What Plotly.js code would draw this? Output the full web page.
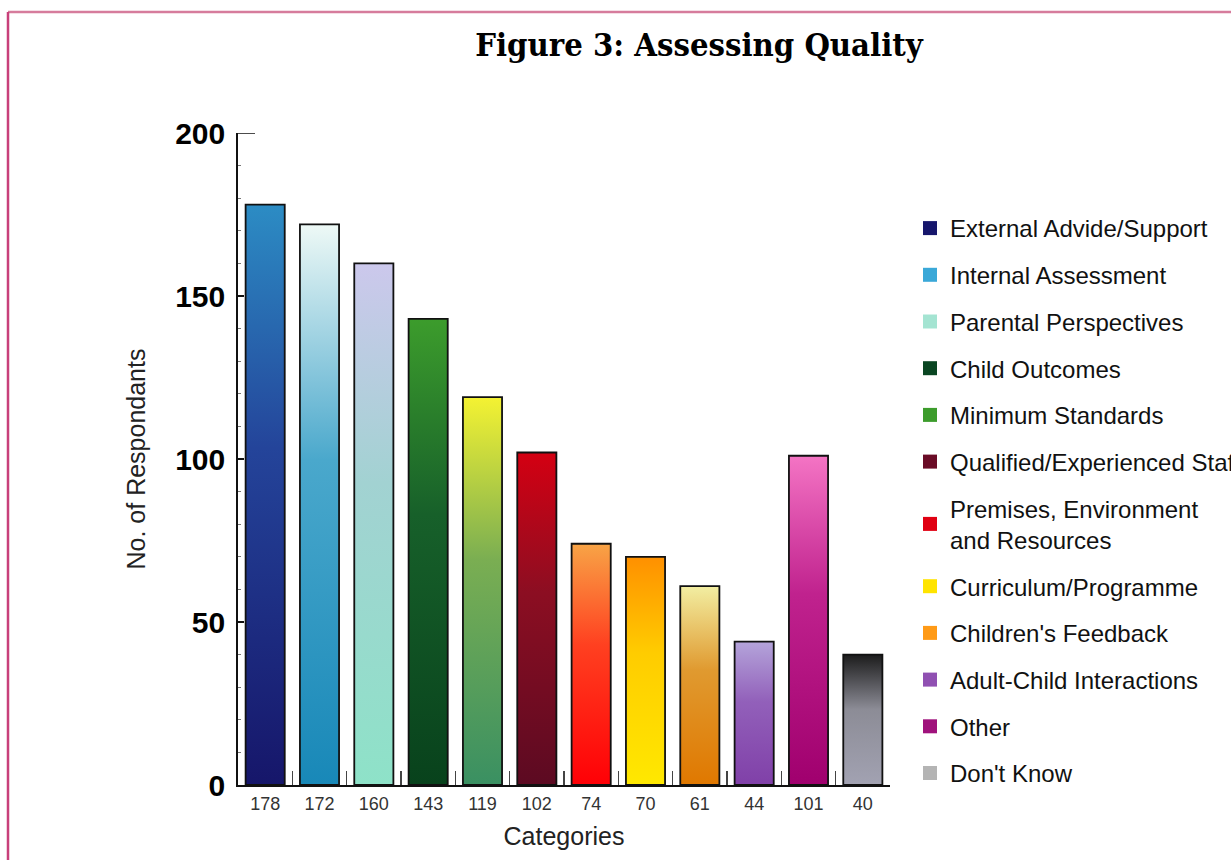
<!DOCTYPE html>
<html>
<head>
<meta charset="utf-8">
<script src="https://cdn.plot.ly/plotly-3.0.1.min.js"></script>
<style>
  html, body { margin: 0; padding: 0; background: #ffffff; }
  #chart { width: 1231px; height: 860px; }
</style>
</head>
<body>
<div id="chart"></div>
<script>
// Survey answers: how settings assess the quality of their provision
const categories = [
  'External Advide/Support',
  'Internal Assessment',
  'Parental Perspectives',
  'Child Outcomes',
  'Minimum Standards',
  'Qualified/Experienced Staff',
  'Premises, Environment and Resources',
  'Curriculum/Programme',
  "Children's Feedback",
  'Adult-Child Interactions',
  'Other',
  "Don't Know"
];
const legendLabels = [
  'External Advide/Support',
  'Internal Assessment',
  'Parental Perspectives',
  'Child Outcomes',
  'Minimum Standards',
  'Qualified/Experienced Staff',
  'Premises, Environment<br>and Resources',
  'Curriculum/Programme',
  "Children's Feedback",
  'Adult-Child Interactions',
  'Other',
  "Don't Know"
];
const respondents = [178, 172, 160, 143, 119, 102, 74, 70, 61, 44, 101, 40];

// Swatch colour per category
const legendColors = [
  '#16166c', '#3aa8d8', '#a4e4d2', '#0a4622', '#3c9c2c', '#6a0c26',
  '#e00012', '#ffe400', '#ff9a16', '#9050b2', '#a0127c', '#b4b4b4'
];
// Vertical shading of each bar: top, middle, bottom
const barShades = [
  ['#2c8cc4', '#24449a', '#16166a'],
  ['#eef9f6', '#4aa8cc', '#1888b8'],
  ['#ccc8ec', '#a2d2d2', '#8ee2c8'],
  ['#3c9c2c', '#17602a', '#08421c'],
  ['#f4f232', '#7aae52', '#3a9062'],
  ['#d40012', '#8c0e22', '#5c0a22'],
  ['#f8a446', '#ff4020', '#ff0006'],
  ['#ff9000', '#ffcc00', '#ffe800'],
  ['#f2eea2', '#e09a30', '#e07800'],
  ['#b4a4da', '#9260ba', '#8040a8'],
  ['#f474c4', '#c0228e', '#a0006e'],
  ['#1c1c1c', '#8c8c96', '#a2a2b2']
];

const traces = categories.map((cat, i) => ({
  type: 'bar',
  name: legendLabels[i],
  legendgroup: 'g' + i,
  x: [cat],
  y: [respondents[i]],
  width: 0.72,
  marker: {
    color: legendColors[i],
    line: { color: '#111111', width: 1.8 }
  },
  hoverinfo: 'x+y'
}));

// pixel → paper helpers for the frame around the figure
const L = 238, R = 341, T = 133, B = 75, W = 1231, H = 860;
const pw = W - L - R, ph = H - T - B;
const px = v => (v - L) / pw;
const py = v => (H - B - v) / ph;

const layout = {
  width: W,
  height: H,
  margin: { l: L, r: R, t: T, b: B, pad: 0 },
  paper_bgcolor: '#ffffff',
  plot_bgcolor: '#ffffff',
  barmode: 'overlay',
  showlegend: true,
  title: {
    text: 'Figure 3: Assessing Quality',
    font: { family: 'DejaVu Serif Condensed, DejaVu Serif, serif', size: 32.5, weight: 'bold', stretch: 'condensed', color: '#000000' },
    xref: 'container', x: 699 / W, xanchor: 'center',
    yref: 'container', y: 1 - 45 / H, yanchor: 'middle'
  },
  xaxis: {
    type: 'category',
    categoryorder: 'array',
    categoryarray: categories,
    range: [-0.5, categories.length - 0.5],
    tickmode: 'array',
    tickvals: categories,
    ticktext: respondents.map(String),
    tickson: 'boundaries',
    ticks: 'inside',
    ticklen: 14,
    tickwidth: 1.5,
    tickcolor: '#444444',
    tickfont: { family: 'Liberation Sans, Arial, sans-serif', size: 18, color: '#333333' },
    ticklabelstandoff: 2,
    showline: true,
    linecolor: '#111111',
    linewidth: 1.8,
    showgrid: false,
    zeroline: false,
    fixedrange: true,
    title: {
      text: 'Categories',
      font: { family: 'Liberation Sans, Arial, sans-serif', size: 25, color: '#222222' },
      standoff: 14
    }
  },
  yaxis: {
    range: [0, 200],
    tickmode: 'linear',
    tick0: 0,
    dtick: 50,
    ticks: 'inside',
    ticklen: 6,
    tickwidth: 1.5,
    tickcolor: '#111111',
    minor: { ticks: 'inside', ticklen: 3, dtick: 10, tickcolor: '#777777', tickwidth: 1 },
    tickfont: { family: 'Liberation Sans, Arial, sans-serif', size: 30, weight: 'bold', color: '#000000' },
    ticklabelstandoff: 5,
    showline: true,
    linecolor: '#111111',
    linewidth: 1.8,
    showgrid: false,
    zeroline: false,
    fixedrange: true,
    title: {
      text: 'No. of Respondants',
      font: { family: 'Liberation Sans, Arial, sans-serif', size: 25, color: '#222222' },
      standoff: 22
    }
  },
  legend: {
    xref: 'container', x: 910 / W, xanchor: 'left',
    yref: 'container', y: 1 - 206 / H, yanchor: 'top',
    maxheight: 1000,
    bgcolor: 'rgba(0,0,0,0)',
    borderwidth: 0,
    tracegroupgap: 12.5,
    font: { family: 'Liberation Sans, Arial, sans-serif', size: 24, color: '#111111' },
    itemclick: false,
    itemdoubleclick: false
  },
  shapes: [
    // pink frame: top and left edges
    { type: 'line', xref: 'paper', yref: 'paper',
      x0: px(8), x1: px(W + 10), y0: py(12), y1: py(12),
      line: { color: '#d67c9c', width: 2.5 } },
    { type: 'line', xref: 'paper', yref: 'paper',
      x0: px(8), x1: px(8), y0: py(12), y1: py(H + 10),
      line: { color: '#c8407a', width: 2.5 } },
    // longer cap tick at the top of the value axis
    { type: 'line', xref: 'paper', yref: 'y',
      x0: 0, x1: px(255), y0: 200, y1: 200,
      line: { color: '#111111', width: 1.5 } }
  ]
};

Plotly.newPlot('chart', traces, layout, { staticPlot: true, displayModeBar: false }).then(gd => {
  // vertical shading for each bar
  const svgNS = 'http://www.w3.org/2000/svg';
  const svg = gd.querySelector('svg.main-svg');
  let defs = svg.querySelector('defs');
  if (!defs) { defs = document.createElementNS(svgNS, 'defs'); svg.insertBefore(defs, svg.firstChild); }
  const offsets = [0, 0.42, 1];
  barShades.forEach((shade, i) => {
    const grad = document.createElementNS(svgNS, 'linearGradient');
    grad.setAttribute('id', 'barShade' + i);
    grad.setAttribute('x1', '0'); grad.setAttribute('y1', '0');
    grad.setAttribute('x2', '0'); grad.setAttribute('y2', '1');
    shade.forEach((c, k) => {
      const stop = document.createElementNS(svgNS, 'stop');
      stop.setAttribute('offset', offsets[k]);
      stop.setAttribute('stop-color', c);
      grad.appendChild(stop);
    });
    defs.appendChild(grad);
  });
  gd.querySelectorAll('.barlayer .trace').forEach((g, i) => {
    g.querySelectorAll('path').forEach(p => { p.style.fill = 'url(#barShade' + i + ')'; });
  });
  // legend swatches: slightly larger squares, no outline
  gd.querySelectorAll('.legend .legendpoints path').forEach(p => {
    p.style.strokeWidth = '0';
    p.setAttribute('d', 'M7,7H-7V-7H7Z');
  });
});
</script>
</body>
</html>
